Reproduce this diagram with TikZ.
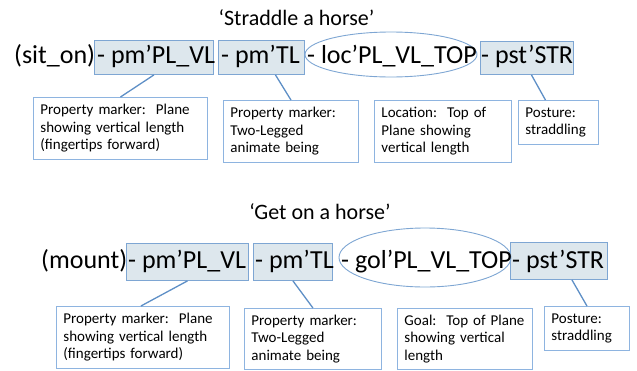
\documentclass[tikz,border=0pt]{standalone}
\usepackage{fontspec}
\setmainfont{Carlito}
\usetikzlibrary{shapes.geometric,calc}
\definecolor{boxfill}{HTML}{DDE7ED}
\definecolor{boxline}{HTML}{7EA6D3}
\definecolor{conline}{HTML}{5E8FC6}
\definecolor{sline}{HTML}{8EB4E0}
\frenchspacing
\tikzset{
  mainbox/.style={draw=boxline, fill=boxfill, line width=0.9pt, rectangle, inner sep=0pt, anchor=north west},
  maintext/.style={font=\fontsize{26}{30}\selectfont, inner sep=0pt, anchor=base west},
  titletext/.style={font=\fontsize{22}{26}\selectfont, inner sep=0pt, anchor=base},
  ellbox/.style={draw=boxline, line width=0.9pt, ellipse, inner sep=0pt},
  smallbox/.style={draw=sline, line width=0.9pt, rectangle, inner xsep=7pt, inner ysep=0pt,
    anchor=north west, align=left, font=\fontsize{15}{17.5}\selectfont},
  conn/.style={draw=conline, line width=1.3pt},
}
\begin{document}
\begin{tikzpicture}[x=1pt,y=-1pt]
\useasboundingbox (0,0) rectangle (637,370);
% ---------- top ----------
\node[titletext] (t1) at (296.5,25) {‘Straddle a horse’};
\node[mainbox, minimum width=119pt, minimum height=34pt] (a1) at (94,40) {};
\node[mainbox, minimum width=86pt, minimum height=34pt] (a2) at (218,40) {};
\node[mainbox, minimum width=93pt, minimum height=33pt] (a4) at (480,41) {};
\node[ellbox, minimum width=172pt, minimum height=45pt] (a3) at (391,54.5) {};
\node[maintext] (w0) at (14,63) {(sit\_on)};
\node[maintext] (w1) at (97,63) {- pm’PL\_VL};
\node[maintext] (w2) at (221,63) {- pm’TL};
\node[maintext] (w3) at (307,63) {- loc’PL\_VL\_TOP};
\node[maintext] (w4) at (481,63) {- pst’STR};
\node[smallbox, minimum width=174pt, minimum height=62pt, text width=160pt] (s1) at (33,97)
  {Property marker:\ \ Plane\\showing vertical length\\(fingertips forward)};
\node[smallbox, minimum width=135pt, minimum height=62pt, text width=121pt] (s2) at (223,100)
  {Property marker:\\Two-Legged\\animate being};
\node[smallbox, minimum width=137pt, minimum height=62pt, text width=123pt] (s3) at (374,100)
  {Location:\ \ Top of\\Plane showing\\vertical length};
\node[smallbox, minimum width=80pt, minimum height=44pt, text width=66pt] (s4) at (518,100)
  {Posture:\\straddling};
\draw[conn] (a1.south) -- (s1.north);
\draw[conn] ([xshift=14pt]a2.south) -- (s2.north);
\draw[conn] ([xshift=4.5pt]a4.south) -- ([xshift=-13pt]s4.north);
% ---------- bottom ----------
\node[titletext] (t2) at (320,219) {‘Get on a horse’};
\node[mainbox, minimum width=122pt, minimum height=37pt] (b1) at (126,243) {};
\node[mainbox, minimum width=79pt, minimum height=37pt] (b2) at (253,243) {};
\node[mainbox, minimum width=97pt, minimum height=37pt] (b4) at (510,242) {};
\node[ellbox, minimum width=172pt, minimum height=59pt] (b3) at (425,257.5) {};
\node[maintext] (v0) at (41,268) {(mount)};
\node[maintext] (v1) at (128,268) {- pm’PL\_VL};
\node[maintext] (v2) at (255,268) {- pm’TL};
\node[maintext] (v3) at (341,268) {- gol’PL\_VL\_TOP};
\node[maintext] (v4) at (512,268) {- pst’STR};
\node[smallbox, minimum width=173pt, minimum height=62pt, text width=159pt] (r1) at (56,306)
  {Property marker:\ \ Plane\\showing vertical length\\(fingertips forward)};
\node[smallbox, minimum width=137pt, minimum height=61pt, text width=123pt] (r2) at (244,308)
  {Property marker:\\Two-Legged\\animate being};
\node[smallbox, minimum width=135pt, minimum height=61pt, text width=121pt] (r3) at (397,308)
  {Goal:\ \ Top of Plane\\showing vertical\\length};
\node[smallbox, minimum width=85pt, minimum height=44pt, text width=71pt] (r4) at (544,306)
  {Posture:\\straddling};
\draw[conn] (b1.south) -- ([xshift=-2pt]r1.north);
\draw[conn] (b2.south) -- (r2.north);
\draw[conn] ([xshift=13pt]b4.south) -- (r4.north);
\end{tikzpicture}
\end{document}
